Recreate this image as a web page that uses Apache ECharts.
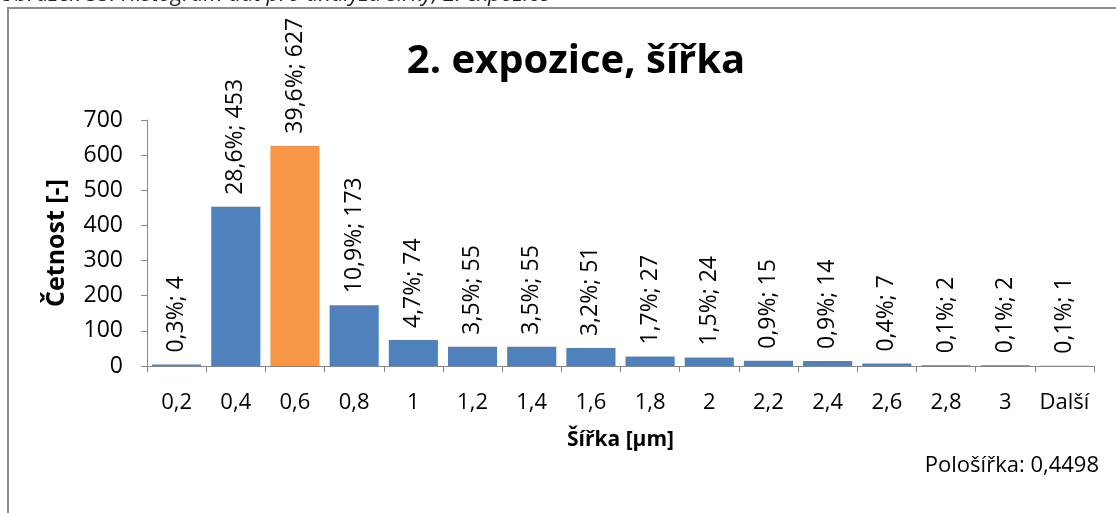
<!DOCTYPE html>
<html>
<head>
<meta charset="utf-8">
<script src="https://cdn.jsdelivr.net/npm/echarts@6/dist/echarts.min.js"></script>
<style>
  html, body { margin: 0; padding: 0; background: #ffffff; }
  #chart { width: 1116px; height: 513px; }
</style>
</head>
<body>
<div id="chart"></div>
<script>
// Histogram of widths, 2nd exposure
const categories = ['0,2', '0,4', '0,6', '0,8', '1', '1,2', '1,4', '1,6', '1,8', '2', '2,2', '2,4', '2,6', '2,8', '3', 'Další'];
const counts = [4, 453, 627, 173, 74, 55, 55, 51, 27, 24, 15, 14, 7, 2, 2, 1];
const shares = ['0,3%', '28,6%', '39,6%', '10,9%', '4,7%', '3,5%', '3,5%', '3,2%', '1,7%', '1,5%', '0,9%', '0,9%', '0,4%', '0,1%', '0,1%', '0,1%'];
const highlightIndex = 2;
const yTicks = { min: 0, max: 700, interval: 100 };

const FONT = 'Open Sans';
const BLUE = '#4F81BD';
const ORANGE = '#F79646';
const AXIS = '#868686';

const chart = echarts.init(document.getElementById('chart'), null, { renderer: 'canvas' });

chart.setOption({
  animation: false,
  backgroundColor: '#ffffff',
  grid: { left: 147, right: 22, top: 120, bottom: 147, containLabel: false },
  title: {
    text: '2. expozice, šířka',
    left: 571, top: 37, textAlign: 'center',
    textStyle: { fontFamily: FONT, fontSize: 40, fontWeight: 'bold', color: '#000' }
  },
  graphic: [
    {
      type: 'rect', silent: true, z: -1,
      shape: { x: 8, y: 8, width: 1300, height: 700 },
      style: { fill: '#fff', stroke: '#8c8c8c', lineWidth: 2 }
    },
    {
      type: 'text', left: -1, top: -16,
      style: {
        text: 'Obrázek 53: Histogram dat pro analýzu šířky, 2. expozice',
        font: 'italic 22px "Open Sans"', fill: '#222'
      }
    },
    {
      type: 'text', right: 17, top: 455,
      style: { text: 'Pološířka: 0,4498', font: '22px "Open Sans"', fill: '#000' }
    }
  ],
  xAxis: {
    type: 'category',
    data: categories,
    name: 'Šířka [µm]',
    nameLocation: 'middle',
    nameGap: 64,
    nameTextStyle: { fontFamily: FONT, fontSize: 21, fontWeight: 'bold', color: '#000' },
    axisLine: { lineStyle: { color: AXIS, width: 1 } },
    axisTick: { show: true, alignWithLabel: false, length: 6, lineStyle: { color: AXIS } },
    axisLabel: { fontFamily: FONT, fontSize: 22, color: '#000', margin: 26, interval: 0 }
  },
  yAxis: {
    type: 'value',
    min: yTicks.min, max: yTicks.max, interval: yTicks.interval,
    name: 'Četnost [-]',
    nameLocation: 'middle',
    nameGap: 78,
    nameRotate: 90,
    nameTextStyle: { fontFamily: FONT, fontSize: 25, fontWeight: 'bold', color: '#000' },
    splitLine: { show: false },
    axisLine: { show: true, lineStyle: { color: AXIS } },
    axisTick: { show: true, length: 6, lineStyle: { color: AXIS } },
    axisLabel: { fontFamily: FONT, fontSize: 23, color: '#000', margin: 24 }
  },
  series: [{
    type: 'bar',
    data: counts.map((v, i) => ({
      value: v,
      itemStyle: { color: i === highlightIndex ? ORANGE : BLUE }
    })),
    barCategoryGap: '17%',
    label: {
      show: true,
      position: 'top',
      rotate: 90,
      align: 'left',
      verticalAlign: 'middle',
      distance: 12,
      fontFamily: FONT,
      fontSize: 23,
      color: '#000',
      formatter: p => shares[p.dataIndex] + '; ' + counts[p.dataIndex]
    }
  }]
});
</script>
</body>
</html>
